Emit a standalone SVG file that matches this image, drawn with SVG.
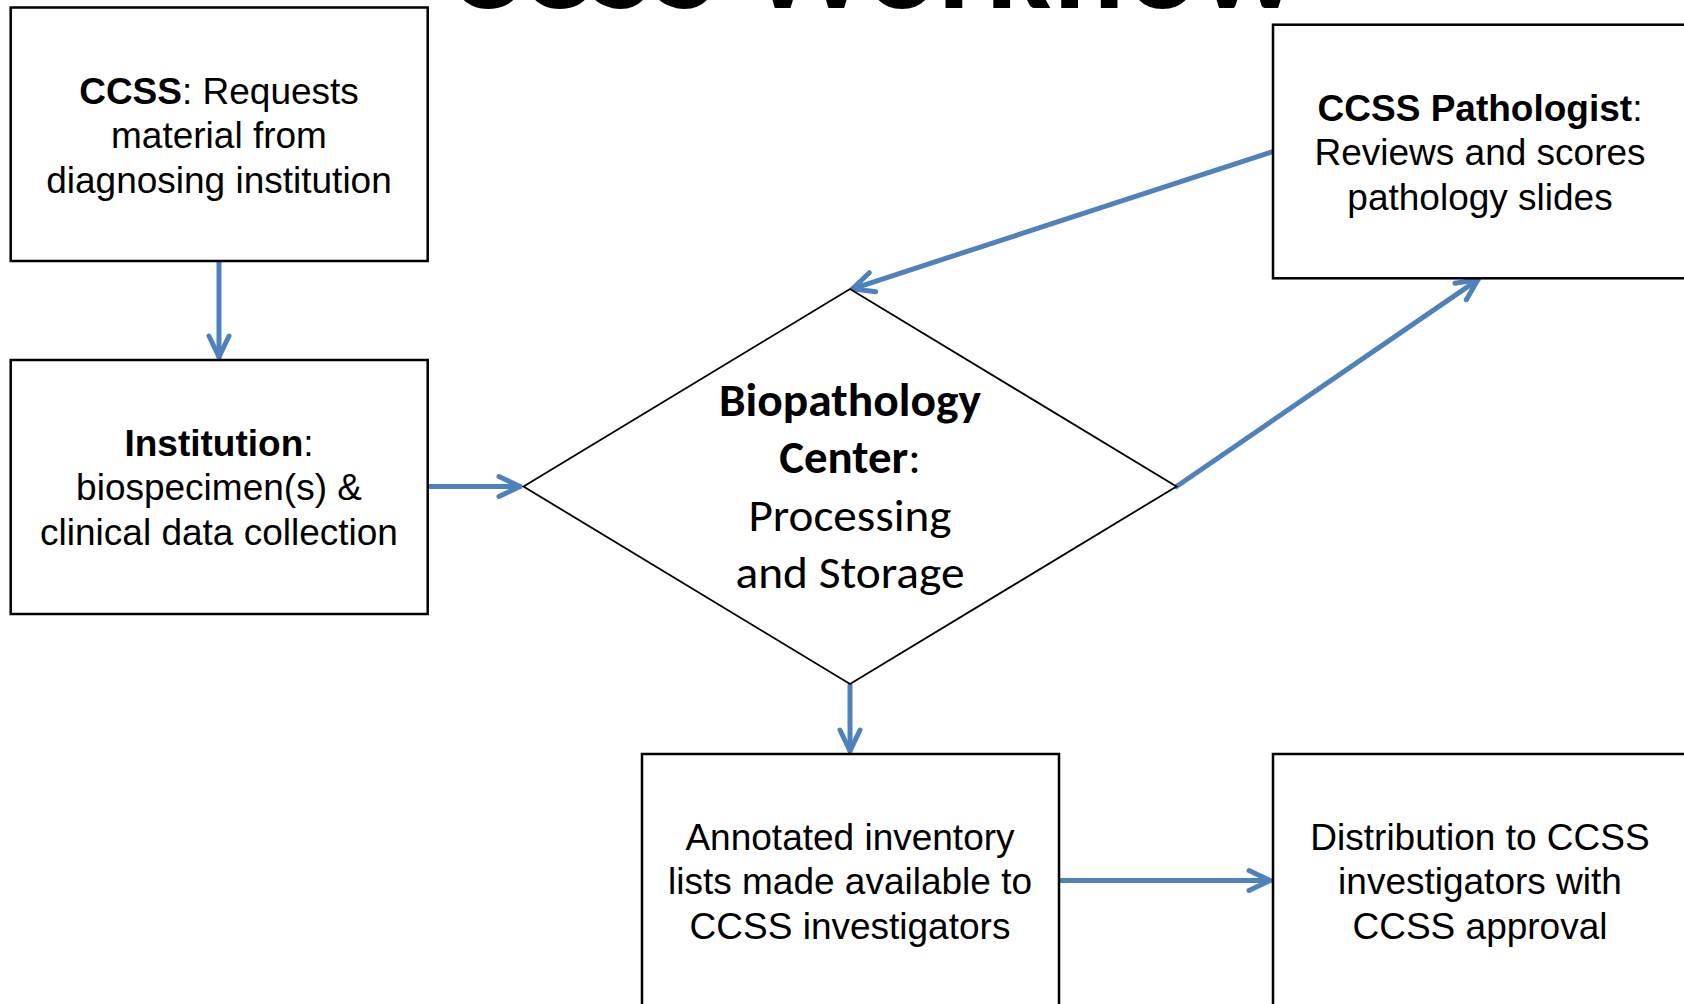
<svg xmlns="http://www.w3.org/2000/svg" width="1684" height="1004" viewBox="0 0 1684 1004">
  <style>
    .box { fill: #ffffff; stroke: #000000; stroke-width: 2.5; }
    .dia { fill: #ffffff; stroke: #000000; stroke-width: 1.8; }
    .t { font-family: "Liberation Sans", Arial, sans-serif; font-size: 37px; fill: #000000; text-anchor: middle; }
    .b { font-weight: bold; }
    .c { font-family: Carlito, Lato, "Open Sans", sans-serif; font-size: 46px; fill: #000000; text-anchor: middle; }
    .title { font-family: Carlito, Lato, "Open Sans", sans-serif; font-size: 134px; font-weight: bold; fill: #000000; text-anchor: middle; }
    .conn { fill: none; stroke: #4F81BD; stroke-width: 5; stroke-linecap: round; marker-end: url(#arr); }
  </style>
  <defs>
    <marker id="arr" markerUnits="userSpaceOnUse" viewBox="-26 -15 30 30" markerWidth="30" markerHeight="30" refX="0" refY="0" orient="auto" overflow="visible">
      <path d="M-21,-10 L0,0 L-21,10" fill="none" stroke="#4F81BD" stroke-width="5" stroke-linecap="round" stroke-linejoin="round"/>
    </marker>
  </defs>
  <rect width="1684" height="1004" fill="#ffffff"/>

  <g id="title">
    <text class="title" x="873" y="7.5" textLength="852" lengthAdjust="spacingAndGlyphs">CCSS Workflow</text>
  </g>

  <g id="connectors">
    <line class="conn" x1="219" y1="262" x2="219" y2="357"/>
    <line class="conn" x1="428" y1="486.5" x2="520" y2="486.5"/>
    <line class="conn" x1="1273" y1="151.5" x2="852.5" y2="288.8"/>
    <line class="conn" x1="1176.5" y1="486.5" x2="1478" y2="279.6"/>
    <line class="conn" x1="850" y1="685" x2="850" y2="751"/>
    <line class="conn" x1="1059" y1="880.5" x2="1270" y2="880.5"/>
  </g>

  <g id="ccss-request">
    <rect class="box" x="10.7" y="7.5" width="417" height="253.5"/>
    <text class="t" x="219" y="103.5"><tspan class="b">CCSS</tspan>: Requests</text>
    <text class="t" x="219" y="148">material from</text>
    <text class="t" x="219" y="192.5">diagnosing institution</text>
  </g>

  <g id="institution">
    <rect class="box" x="10.7" y="360" width="417" height="254"/>
    <text class="t" x="219" y="455.5"><tspan class="b">Institution</tspan>:</text>
    <text class="t" x="219" y="500">biospecimen(s) &amp;</text>
    <text class="t" x="219" y="544.5">clinical data collection</text>
  </g>

  <g id="biopathology-center">
    <polygon class="dia" points="523.5,486.5 850,289 1176.5,486.5 850,684"/>
    <text class="c" x="850" y="416" textLength="262" lengthAdjust="spacingAndGlyphs"><tspan class="b">Biopathology</tspan></text>
    <text class="c" x="850" y="472.5" textLength="141.6" lengthAdjust="spacingAndGlyphs"><tspan class="b">Center</tspan>:</text>
    <text class="c" x="850" y="530.5" textLength="203" lengthAdjust="spacingAndGlyphs">Processing</text>
    <text class="c" x="850" y="587.5" textLength="229" lengthAdjust="spacingAndGlyphs">and Storage</text>
  </g>

  <g id="ccss-pathologist">
    <rect class="box" x="1273" y="24.7" width="417" height="253.6"/>
    <text class="t" x="1480" y="120.5"><tspan class="b">CCSS Pathologist</tspan>:</text>
    <text class="t" x="1480" y="165">Reviews and scores</text>
    <text class="t" x="1480" y="209.5">pathology slides</text>
  </g>

  <g id="inventory-lists">
    <rect class="box" x="642" y="754" width="417" height="254"/>
    <text class="t" x="850" y="849.5">Annotated inventory</text>
    <text class="t" x="850" y="894">lists made available to</text>
    <text class="t" x="850" y="938.5">CCSS investigators</text>
  </g>

  <g id="distribution">
    <rect class="box" x="1273" y="754" width="417" height="254"/>
    <text class="t" x="1480" y="849.5">Distribution to CCSS</text>
    <text class="t" x="1480" y="894">investigators with</text>
    <text class="t" x="1480" y="938.5">CCSS approval</text>
  </g>
</svg>
